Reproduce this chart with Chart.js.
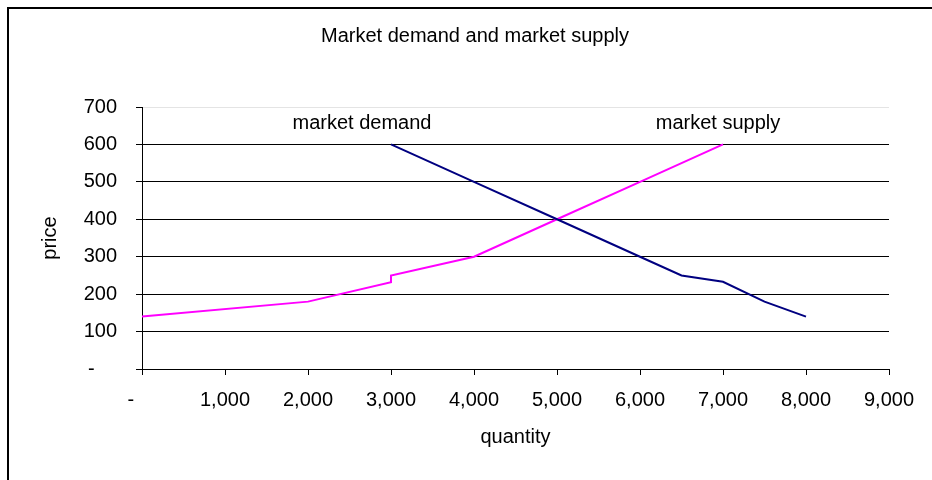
<!DOCTYPE html>
<html>
<head>
<meta charset="utf-8">
<title>Market demand and market supply</title>
<script src="https://cdn.jsdelivr.net/npm/chart.js@4/dist/chart.umd.min.js"></script>
<style>
  body { margin: 0; background: #fff; }
  canvas { display: block; }
</style>
</head>
<body>
<canvas id="supplyDemand" width="932" height="480"></canvas>
<script>
const chartTitle = 'Market demand and market supply';

// Demand curve (quantity, price)
const demandQty = [3000, 4000, 5000, 6000, 6500, 7000, 7500, 8000];
const demandPrice = [600, 500, 400, 300, 250, 233, 180, 140];

// Supply curve (quantity, price) - note the step at 3,000
const supplyQty = [0, 2000, 3000, 3000, 4000, 5000, 6000, 7000];
const supplyPrice = [140, 180, 232, 250, 300, 400, 500, 600];

// Curve names written inside the plot, at (quantity, price)
const curveLabels = ['market demand', 'market supply'];
const curveLabelQty = [2650, 6940];
const curveLabelPrice = [655, 655];

const FONT = 'Liberation Sans, Arial, sans-serif';
const FONT_SIZE = 20;

function toPoints(xs, ys) {
    return xs.map((x, i) => ({ x: x, y: ys[i] }));
}

function fmtTick(v) {
    if (v === 0) return '-    ';
    return v.toLocaleString('en-US');
}

// Frame, title and curve names
const decorations = {
    id: 'decorations',
    afterDraw(chart) {
        const ctx = chart.ctx;
        const { x, y } = chart.scales;
        ctx.save();
        ctx.strokeStyle = '#000';
        ctx.lineWidth = 2;
        ctx.strokeRect(8, 8, 1000, 1000);

        ctx.fillStyle = '#000';
        ctx.font = FONT_SIZE + 'px ' + FONT;
        ctx.textAlign = 'center';
        ctx.textBaseline = 'middle';
        ctx.fillText(chartTitle, 475, 36);

        curveLabels.forEach((txt, i) => {
            ctx.fillText(txt, x.getPixelForValue(curveLabelQty[i]), y.getPixelForValue(curveLabelPrice[i]));
        });
        ctx.restore();
    }
};

const ctx = document.getElementById('supplyDemand').getContext('2d');
new Chart(ctx, {
    type: 'line',
    data: {
        datasets: [{
            label: 'market demand',
            data: toPoints(demandQty, demandPrice),
            borderColor: '#000080',
            borderWidth: 2,
            pointRadius: 0,
            tension: 0
        }, {
            label: 'market supply',
            data: toPoints(supplyQty, supplyPrice),
            borderColor: '#ff00ff',
            borderWidth: 2,
            pointRadius: 0,
            tension: 0
        }]
    },
    options: {
        responsive: false,
        animation: false,
        devicePixelRatio: 1,
        layout: { padding: { left: 0, top: 107, right: 43, bottom: 20 } },
        plugins: {
            legend: { display: false },
            tooltip: { enabled: false }
        },
        scales: {
            x: {
                type: 'linear',
                min: 0,
                max: 9000,
                afterFit(scale) { scale.height = 91; },
                ticks: {
                    stepSize: 1000,
                    maxRotation: 0,
                    padding: 13,
                    color: '#000',
                    font: { family: FONT, size: FONT_SIZE },
                    callback: fmtTick
                },
                grid: { drawOnChartArea: false, drawTicks: true, tickLength: 6, color: '#000' },
                border: { display: true, color: '#000', width: 1 },
                title: {
                    display: true,
                    text: 'quantity',
                    color: '#000',
                    font: { family: FONT, size: FONT_SIZE },
                    padding: { top: 0, bottom: 11 }
                }
            },
            y: {
                min: 0,
                max: 700,
                afterFit(scale) { scale.width = 142; },
                ticks: {
                    stepSize: 100,
                    padding: 19,
                    color: '#000',
                    font: { family: FONT, size: FONT_SIZE },
                    callback: fmtTick
                },
                grid: {
                    drawTicks: true,
                    tickLength: 6,
                    tickColor: '#000',
                    color: c => (c.tick && c.tick.value === 700) ? '#e4e4e4' : '#000'
                },
                border: { display: true, color: '#000', width: 1 },
                title: {
                    display: true,
                    text: 'price',
                    color: '#000',
                    font: { family: FONT, size: FONT_SIZE },
                    padding: { top: 38, bottom: 0 }
                }
            }
        }
    },
    plugins: [decorations]
});
</script>
</body>
</html>
